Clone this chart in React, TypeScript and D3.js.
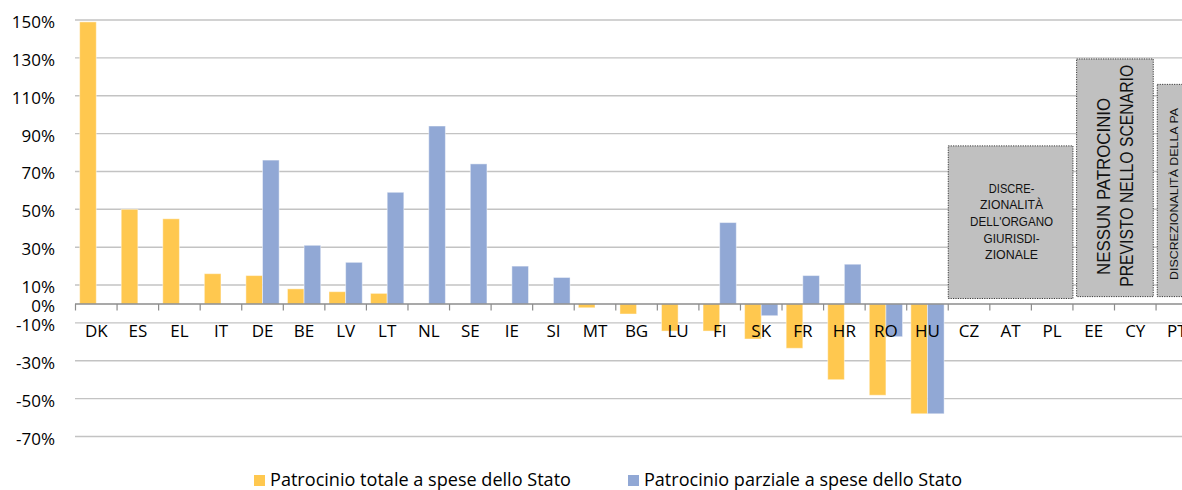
import React from "react";
import * as d3 from "d3";

const categories = ["DK","ES","EL","IT","DE","BE","LV","LT","NL","SE","IE","SI","MT","BG","LU","FI","SK","FR","HR","RO","HU","CZ","AT","PL","EE","CY","PT"];
const totale: (number | null)[] = [149,50,45,16,15,8,6.5,5.6,null,null,null,null,-2,-5.3,-14.3,-14.3,-18.5,-23.4,-40,-48.2,-58,null,null,null,null,null,null];
const parziale: (number | null)[] = [null,null,null,null,76,31,22,59,94,74,20,14,null,null,null,43,-6.2,15,21,-17.3,-58,null,null,null,null,null,null];
const yTickValues = [150,130,110,90,70,50,30,10,0,-10,-30,-50,-70];
const seriesNames = ["Patrocinio totale a spese dello Stato","Patrocinio parziale a spese dello Stato"];
const seriesColors = ["#FFC84F","#91A8D5"];

const box1Lines = ["DISCRE-","ZIONALITÀ","DELL'ORGANO","GIURISDI-","ZIONALE"];
const box1LineLengths = [45.5,63,83,56,53];
const box2Lines = ["NESSUN PATROCINIO","PREVISTO NELLO SCENARIO"];
const box2LineLengths = [177,222];
const box3Lines = ["DISCREZIONALITÀ DELLA PA"];
const box3LineLengths = [172];
const boxFrom = ["CZ","EE","PT"];
const boxTo = ["PL","CY","PT"];
const boxTop = [83.5,129.4,116];
const boxBottom = [2.9,3.9,3.9];

const W = 1182;
const H = 490;
const STEP = 41.56;
const X0 = 75.5;

export default function App() {
  const x = d3.scaleBand<string>().domain(categories).range([X0, X0 + categories.length * STEP]).padding(0);
  const inner = d3.scaleBand<string>().domain(["t","p"]).range([0, x.bandwidth()]).paddingInner(0).paddingOuter(0.25);
  const y = d3.scaleLinear().domain([-70,150]).range([436.5,20]);
  const y0 = y(0);
  const font = "'Open Sans', 'DejaVu Sans', sans-serif";
  const narrow = "'Liberation Sans Narrow', 'Liberation Sans', Arial, sans-serif";

  const bars: JSX.Element[] = [];
  const series = [totale, parziale];
  const keys = ["t","p"];
  series.forEach((vals, si) => {
    vals.forEach((v, i) => {
      if (v === null) return;
      const c = categories[i];
      const bx = (x(c) as number) + (inner(keys[si]) as number);
      const top = Math.min(y(v), y0);
      const h = Math.abs(y(v) - y0);
      bars.push(
        <rect key={`b${si}-${i}`} x={bx} y={top} width={inner.bandwidth()} height={h}
          fill={seriesColors[si]} stroke="#ffffff" strokeOpacity={0.45} strokeWidth={1} />
      );
    });
  });

  const boxRect = (k: number, insetL: number, insetR: number) => {
    const x1 = (x(boxFrom[k]) as number) + insetL;
    const x2 = (x(boxTo[k]) as number) + x.bandwidth() - insetR;
    const y1 = y(boxTop[k]);
    const y2 = y(boxBottom[k]);
    return { x1, x2, y1, y2 };
  };
  const b1 = boxRect(0, 0, 0);
  const b2 = boxRect(1, 3.7, 2.8);
  const b3 = boxRect(2, 1.2, -40);

  const b1cx = (b1.x1 + b1.x2) / 2 + 1;
  const b2cy = (b2.y1 + b2.y2) / 2;
  const b3cy = (b3.y1 + b3.y2) / 2;

  const legendX = [254, 628];

  return (
    <svg width={W} height={H} style={{ position: "absolute", left: 0, top: 0, background: "#fff" }}>
      {yTickValues.filter(v => v !== 0).map(v => (
        <line key={`g${v}`} x1={75} x2={W} y1={y(v)} y2={y(v)} stroke="#c3c3c3" strokeWidth={1.4} />
      ))}
      {bars}
      <line x1={75} x2={W} y1={y0} y2={y0} stroke="#8c8c8c" strokeWidth={1.4} />
      {categories.map((c, i) => (
        <line key={`t${i}`} x1={x(c) as number} x2={x(c) as number} y1={y0} y2={y0 + 6.5} stroke="#8c8c8c" strokeWidth={1.2} />
      ))}
      {yTickValues.map(v => (
        <text key={`yl${v}`} x={55} y={y(v) + 1.5} textAnchor="end" dominantBaseline="central"
          fontFamily={font} fontSize={17} fill="#000">{`${v}%`}</text>
      ))}
      {categories.map(c => (
        <text key={`c${c}`} x={(x(c) as number) + x.bandwidth() / 2} y={337} textAnchor="middle"
          fontFamily={font} fontSize={17} fill="#000">{c}</text>
      ))}
      {[b1, b2, b3].map((b, k) => (
        <rect key={`box${k}`} x={b.x1} y={b.y1} width={b.x2 - b.x1} height={b.y2 - b.y1}
          fill="#c0c0c0" stroke="#3a3a3a" strokeWidth={1} strokeDasharray="1.2,1.2" />
      ))}
      {box1Lines.map((t, i) => (
        <text key={`b1t${i}`} x={b1cx} y={192.7 + i * 16.65} textAnchor="middle" fontFamily={narrow}
          fontSize={13.5} fill="#111" textLength={box1LineLengths[i]} lengthAdjust="spacingAndGlyphs">{t}</text>
      ))}
      {box2Lines.map((t, i) => (
        <text key={`b2t${i}`} transform={`translate(${1110 + i * 23},${b2cy + (i === 0 ? 8.6 : -2)}) rotate(-90)`}
          textAnchor="middle" fontFamily={narrow} fontSize={18.5} fill="#111"
          textLength={box2LineLengths[i]} lengthAdjust="spacingAndGlyphs">{t}</text>
      ))}
      {box3Lines.map((t, i) => (
        <text key={`b3t${i}`} transform={`translate(${1178},${b3cy + 3.5}) rotate(-90)`}
          textAnchor="middle" fontFamily={narrow} fontSize={11.5} fill="#111"
          textLength={box3LineLengths[i]} lengthAdjust="spacingAndGlyphs">{t}</text>
      ))}
      {seriesNames.map((n, i) => (
        <g key={`lg${i}`}>
          <rect x={legendX[i]} y={475} width={11} height={11} fill={seriesColors[i]} />
          <text x={legendX[i] + 16} y={485.5} fontFamily={font} fontSize={17.5} fill="#000"
            textLength={i === 0 ? 301 : 318} lengthAdjust="spacingAndGlyphs">{n}</text>
        </g>
      ))}
    </svg>
  );
}
